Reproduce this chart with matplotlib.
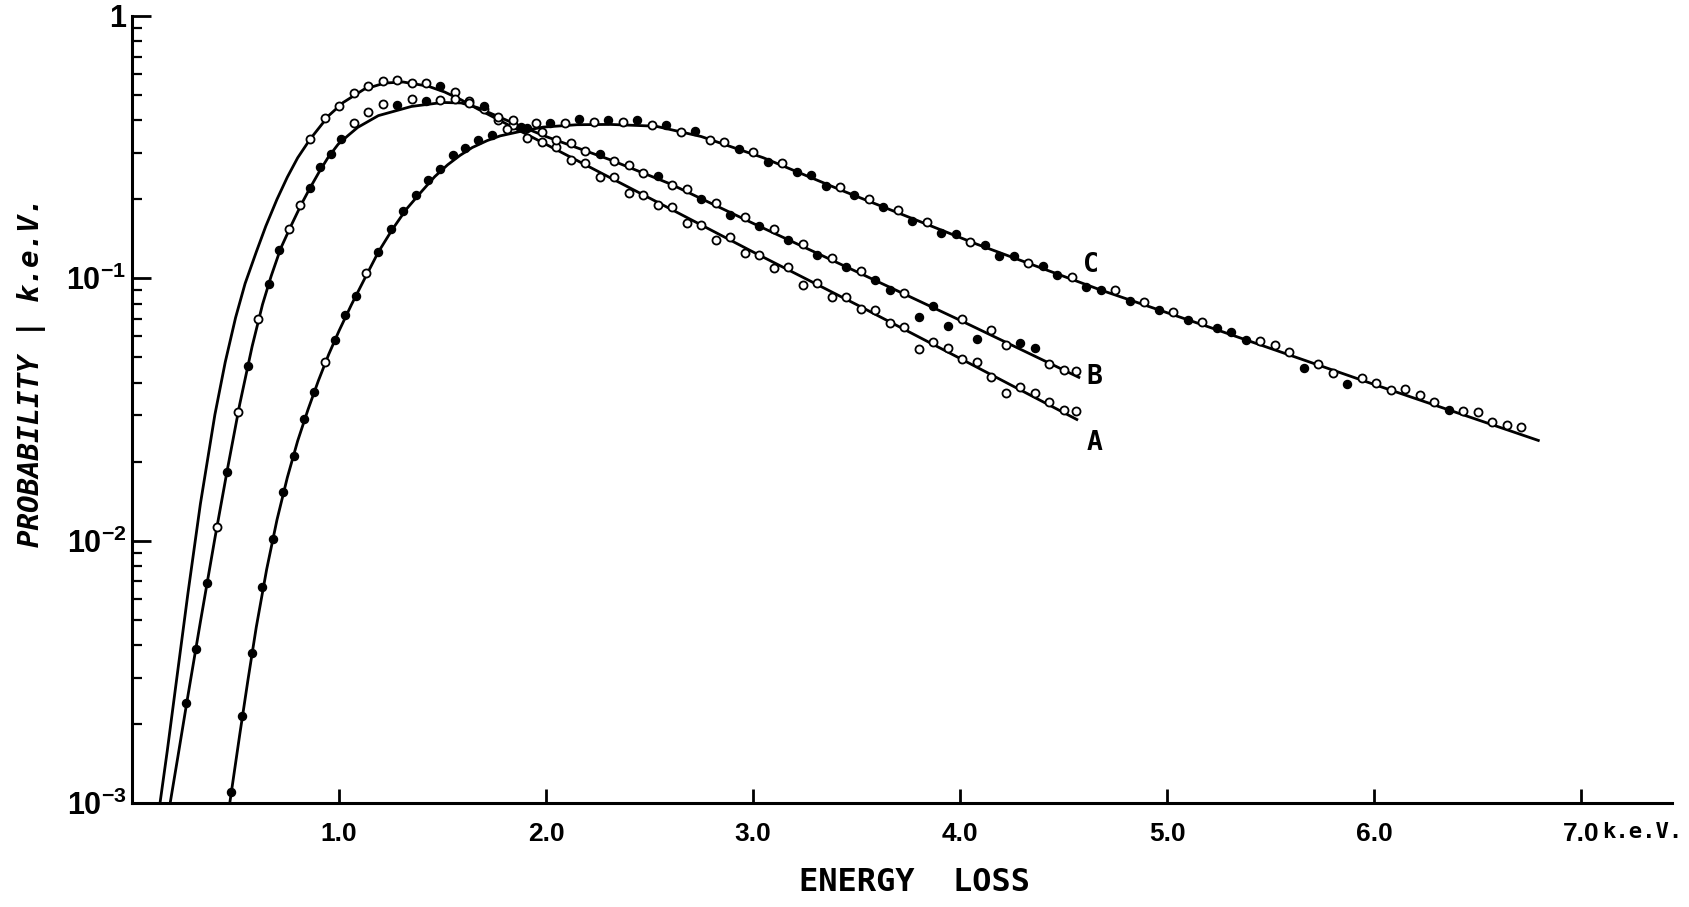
# -*- coding: utf-8 -*-
"""
Distribuicao da perda de energia - curvas A, B e C
Probabilidade por keV em escala log, pontos medidos sobre as curvas ajustadas
"""

import numpy as np
import matplotlib
matplotlib.use('Agg')
import matplotlib.pyplot as plt
from matplotlib.ticker import LogLocator, NullLocator

plt.rcParams['font.family'] = ['Liberation Sans', 'DejaVu Sans']
plt.rcParams['mathtext.fontset'] = 'custom'
plt.rcParams['mathtext.rm'] = 'Liberation Sans:bold'
plt.rcParams['mathtext.it'] = 'Liberation Sans:bold'

# curvas ajustadas (keV, probabilidade / keV)
a_x = [0.135, 0.17, 0.22, 0.27, 0.33, 0.40, 0.45, 0.50, 0.546, 0.60, 0.646, 0.70, 0.75, 0.80, 0.86, 0.95,
       1.02, 1.12, 1.22, 1.31, 1.43, 1.51, 1.59, 1.67, 1.83, 2.00, 2.30, 2.60, 3.00, 3.50, 4.00, 4.57]
a_y = [0.001, 0.00158, 0.00316, 0.00631, 0.0138, 0.0302, 0.0479, 0.0708, 0.0955, 0.126, 0.158, 0.200,
       0.243, 0.288, 0.339, 0.417, 0.468, 0.525, 0.555, 0.560, 0.540, 0.513, 0.479, 0.442, 0.380, 0.324,
       0.244, 0.184, 0.126, 0.0794, 0.0495, 0.0288]

b_x = [0.184, 0.22, 0.27, 0.33, 0.40, 0.46, 0.52, 0.58, 0.63, 0.672, 0.718, 0.767, 0.817, 0.857, 0.907,
       0.946, 0.995, 1.045, 1.09, 1.19, 1.35, 1.50, 1.59, 1.67, 1.83, 2.00, 2.31, 2.60, 3.00, 3.50, 4.00, 4.58]
b_y = [0.001, 0.00148, 0.00257, 0.0049, 0.0102, 0.0186, 0.0331, 0.0550, 0.0794, 0.102, 0.130, 0.158,
       0.191, 0.219, 0.257, 0.288, 0.324, 0.351, 0.376, 0.417, 0.452, 0.468, 0.466, 0.447, 0.394, 0.347,
       0.283, 0.229, 0.162, 0.106, 0.0692, 0.0417]

c_x = [0.472, 0.52, 0.56, 0.60, 0.65, 0.70, 0.75, 0.80, 0.85, 0.90, 0.95, 1.00, 1.06, 1.13, 1.19, 1.256,
       1.324, 1.398, 1.462, 1.525, 1.584, 1.643, 1.716, 1.778, 1.876, 1.986, 2.15, 2.31, 2.53, 2.75,
       3.05, 3.43, 4.08, 4.68, 5.20, 6.00, 6.80]
c_y = [0.001, 0.00182, 0.00295, 0.00468, 0.00776, 0.0120, 0.0174, 0.0240, 0.0316, 0.0407, 0.0513, 0.0631,
       0.0794, 0.102, 0.126, 0.153, 0.183, 0.214, 0.244, 0.271, 0.294, 0.315, 0.335, 0.349, 0.363, 0.377,
       0.385, 0.386, 0.380, 0.347, 0.288, 0.216, 0.135, 0.0902, 0.0653, 0.0394, 0.0240]

# pontos medidos (1 = circulo cheio, 0 = vazado)
a_px = [0.86, 0.93, 1.00, 1.07, 1.14, 1.21, 1.28, 1.35, 1.42, 1.49, 1.56, 1.63, 1.70, 1.77, 1.84, 1.91,
        1.98, 2.05, 2.12, 2.19, 2.26, 2.33, 2.40, 2.47, 2.54, 2.61, 2.68, 2.75, 2.82, 2.89, 2.96, 3.03,
        3.10, 3.17, 3.24, 3.31, 3.38, 3.45, 3.52, 3.59, 3.66, 3.73, 3.80, 3.87, 3.94, 4.01, 4.08, 4.15,
        4.22, 4.29, 4.36, 4.43, 4.50, 4.56]
a_py = [0.339, 0.407, 0.453, 0.507, 0.543, 0.565, 0.571, 0.553, 0.553, 0.543, 0.514, 0.476, 0.440, 0.402,
        0.385, 0.344, 0.330, 0.316, 0.282, 0.274, 0.244, 0.243, 0.212, 0.208, 0.190, 0.187, 0.163, 0.160,
        0.140, 0.144, 0.125, 0.123, 0.109, 0.110, 0.0944, 0.0959, 0.0847, 0.0851, 0.0762, 0.0755, 0.0675,
        0.0655, 0.0540, 0.0573, 0.0543, 0.0491, 0.0481, 0.0420, 0.0366, 0.0385, 0.0365, 0.0337, 0.0316,
        0.0312]
a_cheio = [0, 0, 0, 0, 0, 0, 0, 0, 0, 1, 0, 0, 0, 0, 0, 0, 0, 0, 0, 0, 0, 0, 0, 0, 0, 0, 0,
           0, 0, 0, 0, 0, 0, 0, 0, 0, 0, 0, 0, 0, 0, 0, 0, 0, 0, 0, 0, 0, 0, 0, 0, 0, 0, 0]

b_px = [0.26, 0.31, 0.36, 0.41, 0.46, 0.51, 0.56, 0.61, 0.66, 0.71, 0.76, 0.81, 0.86, 0.91, 0.96, 1.01,
        1.07, 1.14, 1.21, 1.28, 1.35, 1.42, 1.49, 1.56, 1.63, 1.70, 1.77, 1.84, 1.91, 1.98, 2.05, 2.12,
        2.19, 2.26, 2.33, 2.40, 2.47, 2.54, 2.61, 2.68, 2.75, 2.82, 2.89, 2.96, 3.03, 3.10, 3.17, 3.24,
        3.31, 3.38, 3.45, 3.52, 3.59, 3.66, 3.73, 3.80, 3.87, 3.94, 4.01, 4.08, 4.15, 4.22, 4.29, 4.36,
        4.43, 4.50, 4.56]
b_py = [0.00241, 0.00386, 0.00687, 0.0113, 0.0182, 0.0308, 0.0465, 0.0701, 0.0953, 0.128, 0.154, 0.190,
        0.221, 0.265, 0.298, 0.339, 0.391, 0.429, 0.461, 0.457, 0.484, 0.475, 0.478, 0.483, 0.467, 0.452,
        0.413, 0.400, 0.375, 0.360, 0.336, 0.328, 0.306, 0.299, 0.279, 0.271, 0.252, 0.245, 0.227, 0.219,
        0.201, 0.194, 0.174, 0.172, 0.158, 0.154, 0.140, 0.135, 0.123, 0.120, 0.110, 0.107, 0.0982, 0.0904,
        0.0881, 0.0715, 0.0782, 0.0656, 0.0701, 0.0589, 0.0635, 0.0558, 0.0569, 0.0541, 0.0470, 0.0447,
        0.0445]
b_cheio = [1, 1, 1, 0, 1, 0, 1, 0, 1, 1, 0, 0, 1, 1, 1, 1, 0, 0, 0, 1, 0, 1, 0, 0, 0, 1, 0, 0, 1,
           0, 0, 0, 0, 1, 0, 0, 0, 1, 0, 0, 1, 0, 1, 0, 1, 0, 1, 0, 1, 0, 1, 0, 1, 1, 0, 1, 1, 1, 0,
           1, 0, 0, 1, 1, 0, 0, 0]

c_px = [0.48, 0.53, 0.58, 0.63, 0.68, 0.73, 0.78, 0.83, 0.88, 0.93, 0.98, 1.03, 1.08, 1.13, 1.19, 1.25,
        1.31, 1.37, 1.43, 1.49, 1.55, 1.61, 1.67, 1.74, 1.81, 1.88, 1.95, 2.02, 2.09, 2.16, 2.23, 2.30,
        2.37, 2.44, 2.51, 2.58, 2.65, 2.72, 2.79, 2.86, 2.93, 3.00, 3.07, 3.14, 3.21, 3.28, 3.35, 3.42,
        3.49, 3.56, 3.63, 3.70, 3.77, 3.84, 3.91, 3.98, 4.05, 4.12, 4.19, 4.26, 4.33, 4.40, 4.47, 4.54,
        4.61, 4.68, 4.75, 4.82, 4.89, 4.96, 5.03, 5.10, 5.17, 5.24, 5.31, 5.38, 5.45, 5.52, 5.59, 5.66,
        5.73, 5.80, 5.87, 5.94, 6.01, 6.08, 6.15, 6.22, 6.29, 6.36, 6.43, 6.50, 6.57, 6.64, 6.71]
c_py = [0.00110, 0.00215, 0.00372, 0.00664, 0.0101, 0.0153, 0.0211, 0.0290, 0.0368, 0.0479,
        0.0581, 0.0724, 0.0853, 0.105, 0.126, 0.154, 0.181, 0.207, 0.237,
        0.262, 0.294, 0.313, 0.337, 0.352, 0.371, 0.377, 0.390,
        0.392, 0.391, 0.404, 0.395, 0.400, 0.394, 0.401, 0.385, 0.385, 0.361,
        0.363, 0.338, 0.332, 0.310, 0.304, 0.277, 0.275, 0.255, 0.248, 0.224,
        0.223, 0.207, 0.201, 0.187, 0.182, 0.165, 0.164, 0.149, 0.148, 0.138,
        0.134, 0.122, 0.122, 0.114, 0.111, 0.103, 0.101, 0.0923, 0.0902, 0.0904,
        0.0817, 0.0811, 0.0759, 0.0743, 0.0695, 0.0681, 0.0644, 0.0624, 0.0582, 0.0577,
        0.0558, 0.0522, 0.0455, 0.0472, 0.0437, 0.0394, 0.0418, 0.0400, 0.0374, 0.0380,
        0.0360, 0.0337, 0.0315, 0.0313, 0.0310, 0.0283, 0.0277, 0.0272]
c_cheio = [1, 1, 1, 1, 1, 1, 1, 1, 1, 0,
           1, 1, 1, 0, 1, 1, 1, 1, 1,
           1, 1, 1, 1, 1, 0, 1, 0,
           1, 0, 1, 0, 1, 0, 1, 0, 1, 0,
           1, 0, 0, 1, 0, 1, 0, 1, 1, 1,
           0, 1, 0, 1, 0, 1, 0, 1, 1, 0,
           1, 1, 1, 0, 1, 1, 0, 1, 1, 0,
           1, 0, 1, 0, 1, 0, 1, 1, 1, 0,
           0, 0, 1, 0, 0, 1, 0, 0, 0, 0,
           0, 0, 1, 0, 0, 0, 0, 0]

x_ticks = [1, 2, 3, 4, 5, 6, 7]
x_labels = ['1.0', '2.0', '3.0', '4.0', '5.0', '6.0', '7.0']
y_ticks = [1e-3, 1e-2, 1e-1, 1]
y_labels = [r'$10^{-3}$', r'$10^{-2}$', r'$10^{-1}$', '1']

fig = plt.figure(figsize=(16.89, 9.07), dpi=100)
ax = fig.add_axes([0.0782, 0.1147, 0.9118, 0.8677])
ax.set_yscale('log')
ax.set_xlim(0, 7.44)
ax.set_ylim(1e-3, 1)

for cx, cy in [(a_x, a_y), (b_x, b_y), (c_x, c_y)]:
    ax.plot(cx, cy, color='black', lw=2.0, solid_capstyle='butt', zorder=2)

for px, py, cheio in [(a_px, a_py, a_cheio), (b_px, b_py, b_cheio), (c_px, c_py, c_cheio)]:
    px = np.array(px)
    py = np.array(py)
    m = np.array(cheio, dtype=bool)
    ax.plot(px[m], py[m], 'o', ms=5.8, mfc='black', mec='black', mew=1.0, zorder=3)
    ax.plot(px[~m], py[~m], 'o', ms=5.8, mfc='white', mec='black', mew=1.3, zorder=3)

# letras das curvas
fonte_letra = dict(family='DejaVu Sans Mono', weight='bold', size=19, ha='center', va='center')
ax.text(4.63, 0.112, 'C', **fonte_letra)
ax.text(4.65, 0.042, 'B', **fonte_letra)
ax.text(4.65, 0.0235, 'A', **fonte_letra)

# eixos
for lado in ['top', 'right']:
    ax.spines[lado].set_visible(False)
for lado in ['left', 'bottom']:
    ax.spines[lado].set_linewidth(2.2)

ax.set_xticks(x_ticks)
ax.set_xticklabels(x_labels, fontsize=19, fontweight='bold')
ax.xaxis.set_minor_locator(NullLocator())
ax.tick_params(axis='x', direction='in', length=10, width=2, pad=14)

ax.set_yticks(y_ticks)
ax.set_yticklabels(y_labels, fontsize=22, fontweight='bold')
ax.yaxis.set_minor_locator(LogLocator(base=10, subs=range(2, 10)))
ax.yaxis.set_minor_formatter(plt.NullFormatter())
ax.tick_params(axis='y', which='major', direction='in', length=14, width=2, pad=4)
ax.tick_params(axis='y', which='minor', direction='in', length=7, width=1.6)

ax.annotate('k.e.V.', xy=(7.0, 0), xycoords=('data', 'axes fraction'),
            xytext=(15, -14), textcoords='offset points', ha='left', va='top',
            family='DejaVu Sans Mono', weight='bold', size=16)

fig.text(0.5417, 0.027, 'ENERGY  LOSS', ha='center', va='center',
         family='DejaVu Sans Mono', weight='bold', size=23)
fig.text(0.0185, 0.59, 'PROBABILITY | k.e.V.', rotation=90, ha='center', va='center',
         family='DejaVu Sans Mono', weight='bold', style='oblique', size=21)

fig.savefig('out.png', dpi=100, facecolor='white')
